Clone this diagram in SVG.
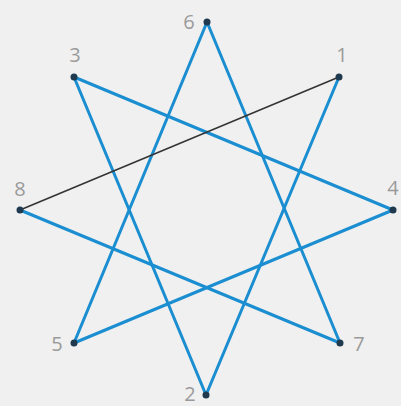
<svg xmlns="http://www.w3.org/2000/svg" width="401" height="406" viewBox="0 0 401 406">
<style>
.bg{fill:#f0f0f0}
.e{stroke:#1a8ed0;stroke-width:3;fill:none;stroke-linecap:round}
.k{stroke:#333;stroke-width:1.5;fill:none}
.d{fill:#1f3a4f}
.t{font-family:"Open Sans","Liberation Sans",sans-serif;font-size:20px;fill:#9a9a9a;text-anchor:middle}
</style>
<rect class="bg" width="401" height="406"/>
<g id="connectors">
<line class="e" x1="339" y1="77" x2="206" y2="395"/>
<line class="e" x1="206" y1="395" x2="74" y2="77"/>
<line class="e" x1="74" y1="77" x2="393" y2="210"/>
<line class="e" x1="393" y1="210" x2="74" y2="343"/>
<line class="e" x1="74" y1="343" x2="207" y2="22"/>
<line class="e" x1="207" y1="22" x2="340" y2="343"/>
<line class="e" x1="340" y1="343" x2="20" y2="210"/>
<line class="k" x1="20" y1="210" x2="339" y2="77"/>
</g>
<g id="n1"><circle class="d" cx="339" cy="77" r="3.5"/><text class="t" x="342" y="62">1</text></g>
<g id="n2"><circle class="d" cx="206" cy="395" r="3.5"/><text class="t" x="190" y="401">2</text></g>
<g id="n3"><circle class="d" cx="74" cy="77" r="3.5"/><text class="t" x="75" y="62">3</text></g>
<g id="n4"><circle class="d" cx="393" cy="210" r="3.5"/><text class="t" x="393" y="195">4</text></g>
<g id="n5"><circle class="d" cx="74" cy="343" r="3.5"/><text class="t" x="57" y="351">5</text></g>
<g id="n6"><circle class="d" cx="207" cy="22" r="3.5"/><text class="t" x="189" y="29">6</text></g>
<g id="n7"><circle class="d" cx="340" cy="343" r="3.5"/><text class="t" x="359" y="351">7</text></g>
<g id="n8"><circle class="d" cx="20" cy="210" r="3.5"/><text class="t" x="20" y="196">8</text></g>
</svg>
